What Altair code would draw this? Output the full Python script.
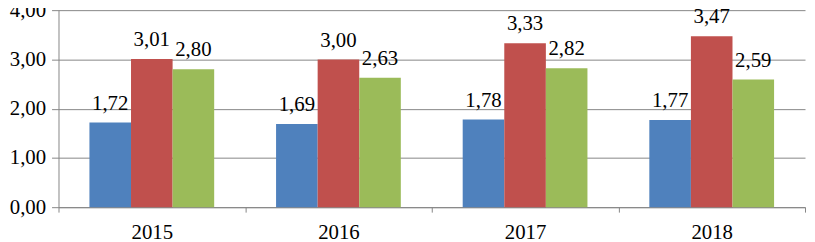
import altair as alt
import pandas as pd

years = ["2015", "2016", "2017", "2018"]
series = ["A", "B", "C"]
values_a = [1.72, 1.69, 1.78, 1.77]
values_b = [3.01, 3.00, 3.33, 3.47]
values_c = [2.80, 2.63, 2.82, 2.59]
colors = ["#4F81BD", "#C0504D", "#9BBB59"]
y_ticks = [0, 1, 2, 3, 4]

rows = []
for s, vals in zip(series, [values_a, values_b, values_c]):
    for y, v in zip(years, vals):
        rows.append({"year": y, "series": s, "value": v})
df = pd.DataFrame(rows)

FONT = "'Liberation Serif', 'Times New Roman', serif"
GRID = "#868686"

base = alt.Chart(df).encode(
    x=alt.X("year:N", sort=years, title=None,
            scale=alt.Scale(paddingInner=0, paddingOuter=0),
            axis=alt.Axis(labelAngle=0, tickBand="extent", tickSize=5,
                          domainColor=GRID, tickColor=GRID, labelPadding=10,
                          labelFont=FONT, labelFontSize=21, labelColor="black",
                          grid=False)),
    xOffset=alt.XOffset("series:N", sort=series,
                        scale=alt.Scale(paddingInner=0, paddingOuter=0.744)),
)

bars = base.mark_bar().encode(
    y=alt.Y("value:Q", title=None,
            scale=alt.Scale(domain=[0, 4], nice=False, zero=True),
            axis=alt.Axis(values=y_ticks, grid=True, gridColor=GRID,
                          domainColor=GRID, tickColor=GRID, tickSize=7,
                          labelPadding=6, labelFont=FONT, labelFontSize=21,
                          labelColor="black",
                          labelExpr="replace(format(datum.value, '.2f'), '.', ',')")),
    color=alt.Color("series:N", sort=series,
                    scale=alt.Scale(domain=series, range=colors), legend=None),
)

labels = base.mark_text(dy=-13, baseline="alphabetic", align="center",
                        font=FONT, fontSize=21, color="black").encode(
    y=alt.Y("value:Q"),
    text=alt.Text("label:N"),
).transform_calculate(
    label="replace(format(datum.value, '.2f'), '.', ',')"
)

chart = alt.layer(bars, labels).properties(
    width=754, height=199,
    autosize=alt.AutoSizeParams(type="none"),
    padding={"left": 51, "top": 1, "right": 2, "bottom": 34},
).configure_view(stroke=None)

chart.save("out.html", embed_options={"renderer": "svg", "actions": False})
